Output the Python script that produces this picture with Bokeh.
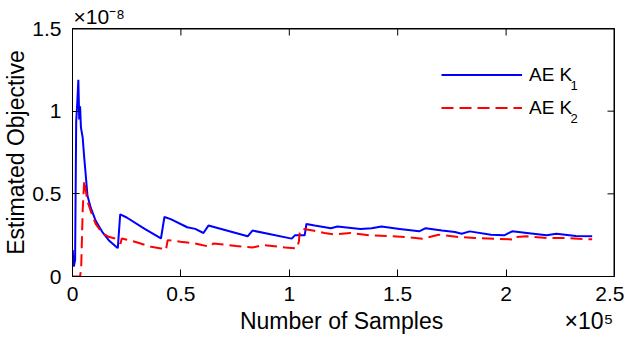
from bokeh.plotting import figure
from bokeh.models import (Range1d, FixedTicker, Label, Legend, LegendItem, Title, Span)
from bokeh.embed import file_html
from bokeh.resources import INLINE

# ---- data (x in units of 1e5 samples, y in units of 1e-8) ----
x_ticks = [0, 0.5, 1, 1.5, 2, 2.5]
x_tick_labels = ["0", "0.5", "1", "1.5", "2", "2.5"]
y_ticks = [0, 0.5, 1, 1.5]
y_tick_labels = ["0", "0.5", "1", "1.5"]

k1_x = [0.001, 0.006, 0.012, 0.017, 0.022, 0.027, 0.031, 0.035, 0.039, 0.047,
        0.054, 0.062, 0.069, 0.084, 0.107, 0.137, 0.167, 0.205, 0.209, 0.220,
        0.250, 0.333, 0.408, 0.424, 0.453, 0.529, 0.566, 0.604, 0.627, 0.808,
        0.830, 1.011, 1.026, 1.071, 1.079, 1.117, 1.192, 1.222, 1.328, 1.380,
        1.425, 1.509, 1.599, 1.629, 1.704, 1.764, 1.795, 1.832, 1.930, 1.991,
        2.028, 2.096, 2.187, 2.232, 2.322, 2.397]
k1_y = [0.16, 0.06, 0.10, 0.935, 1.05, 1.19, 0.95, 1.03, 0.90, 0.84,
        0.72, 0.60, 0.49, 0.416, 0.337, 0.27, 0.22, 0.176, 0.172, 0.376,
        0.357, 0.288, 0.23, 0.36, 0.347, 0.298, 0.288, 0.263, 0.308, 0.243,
        0.278, 0.229, 0.249, 0.249, 0.318, 0.308, 0.292, 0.302, 0.288, 0.292,
        0.302, 0.288, 0.273, 0.292, 0.278, 0.269, 0.259, 0.273, 0.253, 0.249,
        0.273, 0.263, 0.249, 0.259, 0.245, 0.243]

k2_x = [0.0, 0.035, 0.040, 0.047, 0.054, 0.069, 0.084, 0.107, 0.137, 0.167,
        0.195, 0.212, 0.222, 0.227, 0.288, 0.363, 0.408, 0.431, 0.439, 0.499,
        0.566, 0.597, 0.634, 0.650, 0.755, 0.830, 0.876, 0.981, 1.034, 1.044,
        1.049, 1.064, 1.109, 1.162, 1.207, 1.283, 1.373, 1.448, 1.538, 1.614,
        1.689, 1.712, 1.780, 1.855, 1.945, 2.036, 2.043, 2.096, 2.187, 2.277,
        2.367, 2.397]
k2_y = [0.0, 0.0, 0.05, 0.40, 0.58, 0.455, 0.396, 0.318, 0.263, 0.24,
        0.23, 0.21, 0.20, 0.23, 0.21, 0.18, 0.17, 0.16, 0.22, 0.21,
        0.20, 0.19, 0.18, 0.20, 0.184, 0.175, 0.19, 0.176, 0.17, 0.21,
        0.278, 0.288, 0.278, 0.263, 0.255, 0.263, 0.249, 0.245, 0.239, 0.229,
        0.253, 0.249, 0.239, 0.233, 0.229, 0.224, 0.239, 0.243, 0.233, 0.233,
        0.225, 0.225]

series_names = ["AE K", "AE K"]
series_subscripts = ["1", "2"]
x_label = "Number of Samples"
y_label = "Estimated Objective"
x_exponent = "\u00d710\u2075"
y_exponent = "\u00d710\u207b\u2078"

FONT = "Liberation Sans"
NB = "\u00a0"
X0, X1, Y0, Y1 = 0, 2.5, 0, 1.5

W, H = 624, 340
BL, BR, BT, BB = 72, 10, 28, 64
TICK = 7  # px, inward
fw, fh = W - BL - BR, H - BT - BB
tick_dy = TICK * (Y1 - Y0) / fh
tick_dx = TICK * (X1 - X0) / fw

p = figure(width=W, height=H, output_backend="svg", toolbar_location=None,
           x_range=Range1d(X0, X1), y_range=Range1d(Y0, Y1),
           min_border_left=BL, min_border_right=BR, min_border_top=BT, min_border_bottom=BB)
p.grid.visible = False
p.outline_line_color = "black"
p.outline_line_width = 1
p.background_fill_color = "white"

p.title = Title(text=y_exponent, align="left", text_font=FONT, text_font_size="21px",
                text_font_style="normal", text_color="black", standoff=2, offset=1)

for ax, ticks, labels in ((p.xaxis[0], x_ticks, x_tick_labels), (p.yaxis[0], y_ticks, y_tick_labels)):
    ax.ticker = FixedTicker(ticks=ticks)
    ax.major_label_overrides = {t: l for t, l in zip(ticks, labels)}
    ax.major_tick_in = TICK
    ax.major_tick_out = 0
    ax.minor_tick_in = 0
    ax.minor_tick_out = 0
    ax.axis_line_color = "black"
    ax.axis_line_width = 1
    ax.major_tick_line_color = "black"
    ax.major_tick_line_width = 1
    ax.major_label_text_font = FONT
    ax.major_label_text_color = "black"
    ax.major_label_text_font_size = "21px"
    ax.axis_label_text_font = FONT
    ax.axis_label_text_font_size = "23px"
    ax.axis_label_text_font_style = "normal"
    ax.axis_label_text_color = "black"

p.xaxis[0].major_label_standoff = 10
p.yaxis[0].major_label_standoff = 11
# x label with the x10^5 multiplier at the right end of the same line
p.xaxis[0].axis_label = NB * 26 + x_label + NB * 19 + x_exponent
p.xaxis[0].axis_label_standoff = 4
p.yaxis[0].axis_label = y_label
p.yaxis[0].axis_label_standoff = 0

# box: top and right edges
p.add_layout(Span(location=Y1, dimension="width", line_color="black", line_width=2))
p.add_layout(Span(location=X1, dimension="height", line_color="black", line_width=2))
# inward ticks on top and right edges
p.segment(x0=x_ticks, y0=[Y1] * len(x_ticks), x1=x_ticks, y1=[Y1 - tick_dy] * len(x_ticks),
          line_color="black", line_width=1)
p.segment(x0=[X1] * len(y_ticks), y0=y_ticks, x1=[X1 - tick_dx] * len(y_ticks), y1=y_ticks,
          line_color="black", line_width=1)

r1 = p.line(k1_x, k1_y, line_color="#0000FF", line_width=2)
r2 = p.line(k2_x, k2_y, line_color="#FF0000", line_width=2, line_dash="12 6")

legend = Legend(items=[LegendItem(label=series_names[0], renderers=[r1]),
                       LegendItem(label=series_names[1], renderers=[r2])],
                location=(369, 152), glyph_width=81, glyph_height=33,
                label_height=33, spacing=0, padding=0, margin=0,
                label_standoff=7, border_line_alpha=0, background_fill_alpha=0,
                label_text_font=FONT, label_text_font_size="19px",
                label_text_color="black")
p.add_layout(legend)

for s, yy in zip(series_subscripts, [191.3, 158.3]):
    p.add_layout(Label(x=498, y=yy, x_units="screen", y_units="screen", text=s,
                       text_font=FONT, text_font_size="13px", text_color="black",
                       text_align="left", text_baseline="middle"))

open("out.html", "w").write(file_html(p, INLINE))
